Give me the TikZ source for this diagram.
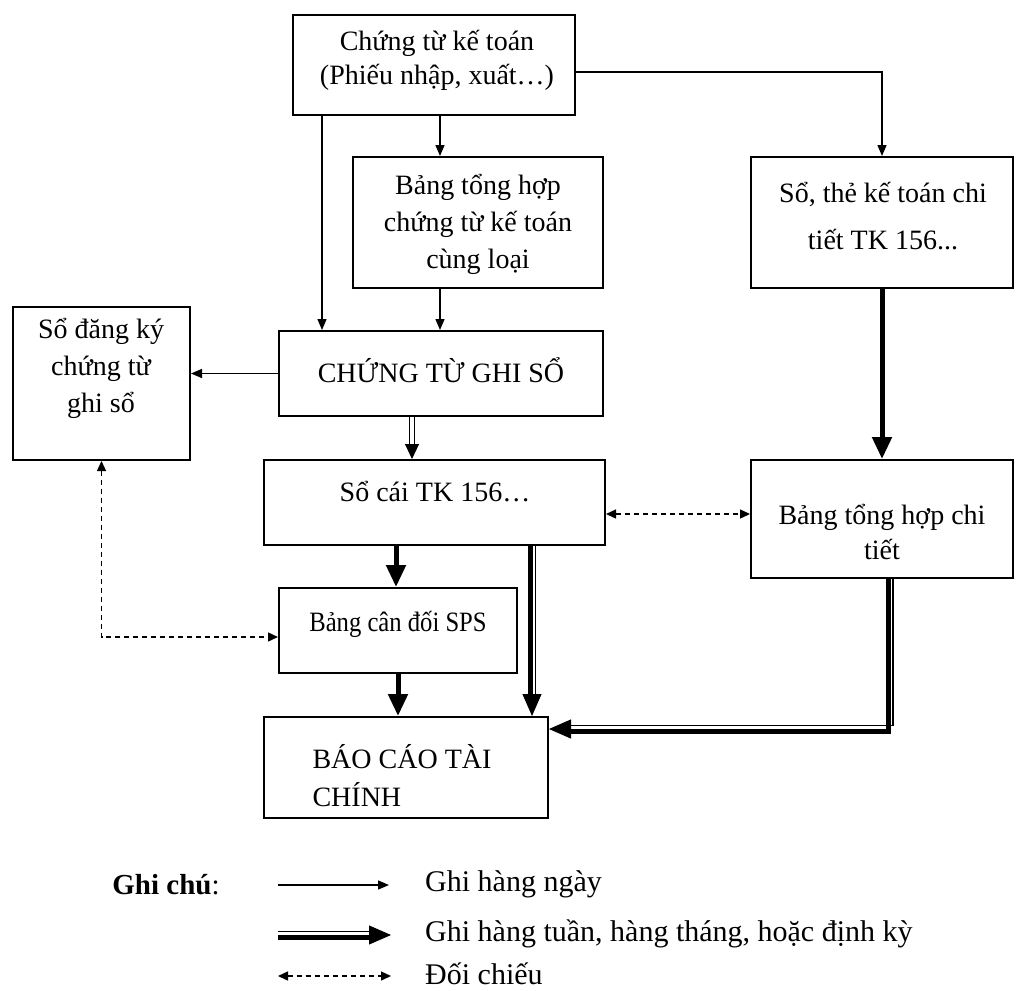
\documentclass[tikz,border=0pt]{standalone}
\usepackage{fontspec}
\usepackage{graphicx}
\setmainfont{Liberation Serif}
\usetikzlibrary{arrows.meta,calc}

\tikzset{
  box/.style={draw, line width=2pt, rectangle, inner sep=0pt},
  txt/.style={align=center, inner sep=0pt, font=\fontsize{28}{37}\selectfont},
  legtxt/.style={anchor=west, inner sep=0pt, font=\fontsize{30}{34}\selectfont},
  daily/.style={line width=1.4pt, -{Triangle[length=11pt,width=9pt]}},
  heavy/.style={line width=5pt, -{Triangle[length=22pt,width=19pt]}},
  heavytip/.style={line width=1pt, -{Triangle[length=22pt,width=19pt]}},
  hairline/.style={line width=1.3pt},
  twin/.style={double, double distance=3.5pt, line width=1.4pt},
  twintip/.style={line width=1pt, -{Triangle[length=15pt,width=14pt]}},
  check/.style={line width=1.4pt, dash pattern=on 5pt off 4pt,
    {Triangle[length=10pt,width=9pt]}-{Triangle[length=10pt,width=9pt]}},
}

\begin{document}
\begin{tikzpicture}[x=1pt,y=-1pt]
\useasboundingbox (0,0) rectangle (1021,991);

% boxes
\node[box, minimum width=282pt, minimum height=100pt] (A) at (434,65) {};
\node[box, minimum width=250pt, minimum height=131pt] (B) at (478,222.5) {};
\node[box, minimum width=262pt, minimum height=131pt] (C) at (882,222.5) {};
\node[box, minimum width=177pt, minimum height=153pt] (D) at (101.5,383.5) {};
\node[box, minimum width=324pt, minimum height=85pt]  (E) at (441,373.5) {};
\node[box, minimum width=341pt, minimum height=85pt]  (F) at (434.5,502.5) {};
\node[box, minimum width=262pt, minimum height=118pt] (G) at (882,519) {};
\node[box, minimum width=238pt, minimum height=85pt]  (H) at (398,630.5) {};
\node[box, minimum width=284pt, minimum height=101pt] (I) at (406,767.5) {};

% box texts
\node[txt, font=\fontsize{28}{34}\selectfont] (At) at (437,60) {Chứng từ kế toán\\(Phiếu nhập, xuất…)};
\node[txt] (Bt) at (478,224) {Bảng tổng hợp\\chứng từ kế toán\\cùng loại};
\node[txt, font=\fontsize{28}{47}\selectfont] (Ct) at (883,216.5) {Sổ, thẻ kế toán chi\\tiết TK 156...};
\node[txt] (Dt) at (101,368) {Sổ đăng ký\\chứng từ\\ghi sổ};
\node[txt] (Et) at (441,370) {CHỨNG TỪ GHI SỔ};
\node[txt] (Ft) at (435,492) {Sổ cái TK 156…};
\node[txt, font=\fontsize{28}{35}\selectfont] (Gt) at (882,532) {Bảng tổng hợp chi\\tiết};
\node[txt] (Ht) at (398,624) {\scalebox{0.88}[1]{Bảng cân đối SPS}};
\node[txt, align=left, font=\fontsize{28}{38}\selectfont] (It) at (402,776) {BÁO CÁO TÀI\\CHÍNH};

% helper positions for connectors
\coordinate (xAE) at (322,0);
\coordinate (xAB) at (440,0);
\coordinate (yAC) at (0,72);
\coordinate (xEF) at (412,0);
\coordinate (yFG) at (0,514);
\coordinate (yDH) at (0,637);
\coordinate (xFH) at (396,0);
\coordinate (xFI) at (530,0);
\coordinate (xFIb) at (535.5,0);
\coordinate (xGI) at (888,0);
\coordinate (xGIb) at (893,0);
\coordinate (yGI) at (0,731);
\coordinate (yGIb) at (0,725.5);

% daily postings
\draw[daily] (A.south -| xAE) -- (E.north -| xAE);
\draw[daily] (A.south -| xAB) -- (B.north -| xAB);
\draw[daily] (B.south -| xAB) -- (E.north -| xAB);
\draw[daily] (A.east |- yAC) -| (C.north);
\draw[daily] (E.west) -- (E.west -| D.east);

% periodic postings
\draw[twin, shorten >=14pt] (E.south -| xEF) -- (F.north -| xEF);
\draw[twintip] ($(F.north -| xEF)+(0,-6)$) -- (F.north -| xEF);
\draw[heavy] (C.south) -- (G.north);
\draw[heavy] (F.south -| xFH) -- (H.north -| xFH);
\draw[heavy] (H.south) -- (H.south |- I.north);
\draw[line width=5pt, shorten >=20pt] (F.south -| xFI) -- (I.north -| xFI);
\draw[hairline, shorten >=20pt] (F.south -| xFIb) -- (I.north -| xFIb);
\draw[heavytip] ($(I.north -| xFI)+(2,-6)$) -- ($(I.north -| xFI)+(2,0)$);
\draw[line width=5pt, shorten >=20pt] (G.south -| xGI) |- (I.east |- yGI);
\draw[hairline, shorten >=20pt] (G.south -| xGIb) |- (I.east |- yGIb);
\draw[heavytip] ($(I.east |- yGI)+(6,-2)$) -- ($(I.east |- yGI)+(0,-2)$);

% cross-checks
\draw[check] (F.east |- yFG) -- (G.west |- yFG);
\draw[check] (D.south) |- (H.west |- yDH);

% legend
\node[anchor=center, inner sep=0pt, font=\fontsize{29}{34}\selectfont] (Lg) at (166,885) {\textbf{Ghi chú}:};
\coordinate (L1a) at (278,885);
\coordinate (L1b) at (389,885);
\coordinate (L2a) at (278,937);
\coordinate (L2b) at (391,937);
\coordinate (L2c) at (278,931.5);
\coordinate (L3a) at (278,976);
\coordinate (L3b) at (391,976);
\draw[daily] (L1a) -- (L1b);
\draw[line width=5pt, shorten >=18pt] (L2a) -- (L2b);
\draw[hairline] (L2c) -- ($(L2c)+(95,0)$);
\draw[heavytip] ($(L2b)+(-6,-2)$) -- ($(L2b)+(0,-2)$);
\draw[check] (L3a) -- (L3b);
\node[legtxt] (T1) at (425,884) {Ghi hàng ngày};
\node[legtxt] (T2) at (425,934) {Ghi hàng tuần, hàng tháng, hoặc định kỳ};
\node[legtxt] (T3) at (425,974) {Đối chiếu};
\end{tikzpicture}
\end{document}
